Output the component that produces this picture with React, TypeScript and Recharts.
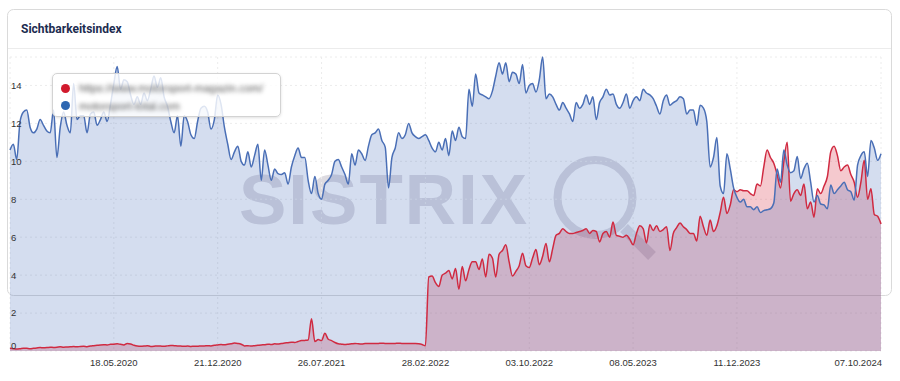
import { ComposedChart, Area, Line, XAxis, YAxis, CartesianGrid } from "recharts";

// weekly values, 14.10.2019 (week 0) .. 07.10.2024 (week 260)
const redValues = [
  0.15, 0.12, 0.1, 0.12, 0.15, 0.14, 0.12, 0.14, 0.16, 0.18,
  0.17, 0.18, 0.2, 0.19, 0.2, 0.22, 0.2, 0.21, 0.22, 0.24,
  0.22, 0.24, 0.25, 0.23, 0.26, 0.28, 0.3, 0.32, 0.33, 0.32,
  0.35, 0.36, 0.38, 0.35, 0.32, 0.4, 0.37, 0.3, 0.26, 0.25,
  0.26, 0.28, 0.24, 0.25, 0.27, 0.26, 0.25, 0.27, 0.29, 0.28,
  0.27, 0.26, 0.25, 0.26, 0.24, 0.25, 0.25, 0.27, 0.27, 0.28,
  0.27, 0.3, 0.32, 0.34, 0.33, 0.36, 0.38, 0.42, 0.4, 0.36,
  0.27, 0.28, 0.26, 0.28, 0.3, 0.32, 0.33, 0.36, 0.34, 0.38,
  0.37, 0.4, 0.42, 0.44, 0.46, 0.45, 0.5, 0.55, 0.56, 0.58,
  1.7, 0.5, 0.6, 0.55, 0.93, 0.62, 0.55, 0.45, 0.38, 0.36,
  0.34, 0.36, 0.38, 0.4, 0.38, 0.37, 0.39, 0.4, 0.4, 0.39,
  0.4, 0.41, 0.4, 0.4, 0.39, 0.4, 0.41, 0.4, 0.4, 0.39,
  0.4, 0.4, 0.38, 0.34, 0.28, 3.9, 3.95, 3.6, 3.4, 4.0,
  4.1, 4.25, 3.8, 4.35, 3.25, 4.45, 3.7, 4.3, 4.7, 4.7,
  4.3, 4.85, 3.9, 5.1, 4.9, 3.9, 5.1, 5.3, 5.6, 4.7,
  3.95, 4.2, 4.5, 5.15, 4.5, 4.4, 4.9, 5.35, 4.55, 5.0,
  5.67, 4.7, 5.4, 6.1, 6.2, 6.45, 6.3, 6.2, 6.2, 6.25,
  6.3, 6.35, 6.45, 6.2, 6.35, 6.3, 5.75, 6.2, 6.3, 6.0,
  6.8, 6.1, 6.05, 6.0, 6.1, 5.9, 5.6, 6.2, 6.6, 6.45,
  5.7, 6.65, 6.35, 6.6, 6.3, 6.4, 6.55, 5.3, 6.2, 6.5,
  6.75, 6.55, 6.4, 6.2, 6.2, 5.8, 7.1, 6.55, 6.1, 6.9,
  6.3, 6.6, 7.3, 8.1, 7.25, 7.7, 8.5, 8.4, 8.5, 8.45,
  8.45, 8.3, 8.2, 8.8, 8.7, 9.7, 10.6, 10.2, 9.9, 9.3,
  8.6, 10.0, 11.0, 7.9, 8.3, 8.5, 8.2, 8.8, 7.5, 7.85,
  7.05, 8.55, 8.3, 8.7, 9.2, 10.5, 10.8, 10.3, 9.5, 9.7,
  9.8, 9.3, 8.9, 8.1, 8.9, 10.05, 8.0, 8.55, 7.2, 7.1,
  6.7
];

const blueValues = [
  10.6, 10.9, 10.1, 12.1, 12.6, 12.7, 11.8, 11.5, 11.7, 12.2,
  11.9, 11.6, 11.5, 12.7, 10.2, 11.8, 12.6, 11.9, 11.5, 14.1,
  12.2, 12.4, 12.4, 11.5, 12.5, 12.6, 11.9, 12.2, 12.6, 12.1,
  13.0, 14.1, 15.0, 13.8, 14.3, 14.2, 13.5, 13.0, 13.4, 13.0,
  13.6, 13.2, 13.8, 14.5, 13.9, 14.4, 13.4, 12.9, 12.1, 11.5,
  12.4, 10.8, 12.4, 12.1, 11.4, 11.2, 12.1, 12.8, 12.9, 12.6,
  11.7, 12.2, 13.5, 13.0, 11.8, 10.9, 10.1, 10.5, 10.8, 10.0,
  9.8, 10.5, 9.7, 10.3, 10.9, 9.0, 10.6, 9.8, 9.0, 9.6,
  9.35, 9.3, 9.4, 8.8, 9.7, 10.3, 10.7, 10.2, 10.2, 9.0,
  8.3, 9.2, 8.3, 8.0, 8.8, 9.0, 9.3, 10.0, 10.1, 9.7,
  9.3, 8.8, 10.4, 9.8, 10.6, 10.4, 10.05, 10.8, 11.4, 11.5,
  11.7, 11.1, 10.75, 8.6, 10.2, 10.7, 11.5, 11.2, 11.4, 12.0,
  11.5, 11.3, 11.2, 11.3, 11.4, 11.1, 10.7, 10.5, 11.0, 10.6,
  11.2, 10.3, 11.6, 11.1, 11.8, 11.3, 11.2, 13.8, 12.9, 14.6,
  13.6, 13.5, 13.4, 13.3, 13.7, 14.5, 15.2, 14.6, 15.2, 14.2,
  14.7, 14.6, 14.1, 15.1, 13.6, 14.0, 14.1, 13.65, 14.3, 15.5,
  13.3, 13.55, 13.4, 13.0, 12.7, 13.1, 12.8, 12.5, 12.1, 13.1,
  12.8, 13.0, 13.5, 13.0, 13.4, 12.2, 13.1, 13.4, 13.8, 13.5,
  13.55, 13.0, 12.8, 13.1, 13.55, 12.8, 13.2, 13.4, 13.2, 13.8,
  13.6, 13.5, 13.3, 12.9, 12.5, 13.2, 13.5, 12.95, 13.1, 13.2,
  13.4, 13.3, 12.5, 12.7, 12.7, 11.9, 12.95, 12.8, 12.1, 9.7,
  10.2, 11.25, 8.7, 8.3, 10.4, 9.6, 8.6, 8.1, 7.85, 8.0,
  7.6, 7.6, 7.45, 7.6, 7.3, 7.4, 7.45, 7.5, 7.8, 9.6,
  8.9, 10.6, 9.8, 9.4, 9.5, 10.25, 9.1, 9.6, 9.9, 8.9,
  7.85, 8.2, 7.75, 7.7, 7.5, 8.75, 8.3, 8.5, 8.7, 8.9,
  8.5, 8.4, 7.95, 9.8, 10.3, 10.5, 9.2, 11.1, 10.7, 10.05,
  10.4
];

const seriesNames = ["https://www.motorsport-magazin.com/", "motorsport-total.com"];
const seriesColors = ["#d02a41", "#4a6fb6"];
const legendDots = ["#d11a2d", "#2e67b1"];

const yTicks = [0, 2, 4, 6, 8, 10, 12, 14];
const xTickWeeks = [31, 62, 93, 124, 155, 186, 217, 260];
const xTickLabels = [
  "18.05.2020",
  "21.12.2020",
  "26.07.2021",
  "28.02.2022",
  "03.10.2022",
  "08.05.2023",
  "11.12.2023",
  "07.10.2024"
];

const rows = blueValues.map((b, i) => ({ week: i, red: redValues[i], blue: b }));

const tickFont = { fontFamily: "'Liberation Sans', Arial, sans-serif", fontSize: 9.5, fill: "#333" };

function XTick({ x, y, payload }: any) {
  const idx = xTickWeeks.indexOf(payload.value);
  const last = idx === xTickWeeks.length - 1;
  return (
    <text x={last ? x + 1 : x} y={y + 14.5} textAnchor={last ? "end" : "middle"} {...tickFont}>
      {xTickLabels[idx]}
    </text>
  );
}

function YTick({ y, payload }: any) {
  return (
    <text x={11} y={payload.value === 0 ? y - 2 : y + 3.4} textAnchor="start" {...tickFont}>
      {payload.value}
    </text>
  );
}

export default function App() {
  return (
    <div style={{ position: "relative", width: 900, height: 381, background: "#fff" }}>
      <style>{`body{margin:0}`}</style>

      <svg width={900} height={381} style={{ position: "absolute", left: 0, top: 0 }}>
        <rect x={7.5} y={9.5} width={884} height={286} rx={6} fill="#fff" stroke="#dadada" />
        <line x1={8} x2={891} y1={48.5} y2={48.5} stroke="#ececec" />
        <text
          x={21}
          y={33.3}
          fontFamily="Roboto, 'Liberation Sans', sans-serif"
          fontWeight={700}
          fontSize={12}
          fill="#1d2c4f"
        >
          Sichtbarkeitsindex
        </text>
        {/* watermark */}
        <g fill="none" stroke="#dddbe1">
          <circle cx={595} cy={197.5} r={37.5} strokeWidth={8} />
          <line x1={624} y1={228} x2={652} y2={256} strokeWidth={11} />
        </g>
        <text
          x={239}
          y={224}
          fontFamily="'Liberation Sans', Arial, sans-serif"
          fontWeight={700}
          fontSize={71}
          letterSpacing={2}
          fill="#dddbe1"
        >
          SISTRIX
        </text>
      </svg>

      <div style={{ position: "absolute", left: 0, top: 0 }}>
        <ComposedChart width={900} height={381} data={rows} margin={{ top: 57, right: 19, bottom: 0, left: 10 }}>
          <CartesianGrid stroke="#ececec" strokeDasharray="2 3" />
          <XAxis
            dataKey="week"
            type="number"
            domain={[0, 260]}
            ticks={xTickWeeks}
            interval={0}
            height={30}
            tickSize={0}
            tickMargin={0}
            axisLine={false}
            tickLine={false}
            tick={<XTick />}
          />
          <Area
            type="monotone"
            dataKey="red"
            stroke="none"
            fill="rgb(214,40,60)"
            fillOpacity={0.25}
            dot={false}
            activeDot={false}
            isAnimationActive={false}
          />
          <Area
            type="monotone"
            dataKey="blue"
            stroke="none"
            fill="rgb(70,110,185)"
            fillOpacity={0.23}
            dot={false}
            activeDot={false}
            isAnimationActive={false}
          />
          <Line
            type="monotone"
            dataKey="red"
            stroke={seriesColors[0]}
            strokeWidth={1.5}
            dot={false}
            activeDot={false}
            isAnimationActive={false}
          />
          <Line
            type="monotone"
            dataKey="blue"
            stroke={seriesColors[1]}
            strokeWidth={1.5}
            dot={false}
            activeDot={false}
            isAnimationActive={false}
          />
          <YAxis
            type="number"
            domain={[0, 15.5]}
            ticks={yTicks}
            width={30}
            mirror
            tickSize={0}
            tickMargin={0}
            axisLine={false}
            tickLine={false}
            tick={<YTick />}
          />
        </ComposedChart>
      </div>

      <div
        style={{
          position: "absolute",
          left: 52,
          top: 73,
          width: 229,
          height: 44,
          boxSizing: "border-box",
          background: "rgba(255,255,255,0.82)",
          border: "1px solid #d3d3d3",
          borderRadius: 5,
          boxShadow: "0 1px 3px rgba(0,0,0,0.12)",
          fontFamily: "'Liberation Sans', Arial, sans-serif",
          fontSize: 11,
          color: "#555"
        }}
      >
        {seriesNames.map((name, i) => (
          <div key={name} style={{ position: "absolute", left: 8, top: 8 + i * 17.5, height: 12, display: "flex", alignItems: "center" }}>
            <span style={{ width: 9, height: 9, borderRadius: "50%", background: legendDots[i], marginRight: 9 }} />
            <span style={{ filter: "blur(1.9px)", whiteSpace: "nowrap" }}>{name}</span>
          </div>
        ))}
      </div>
    </div>
  );
}
